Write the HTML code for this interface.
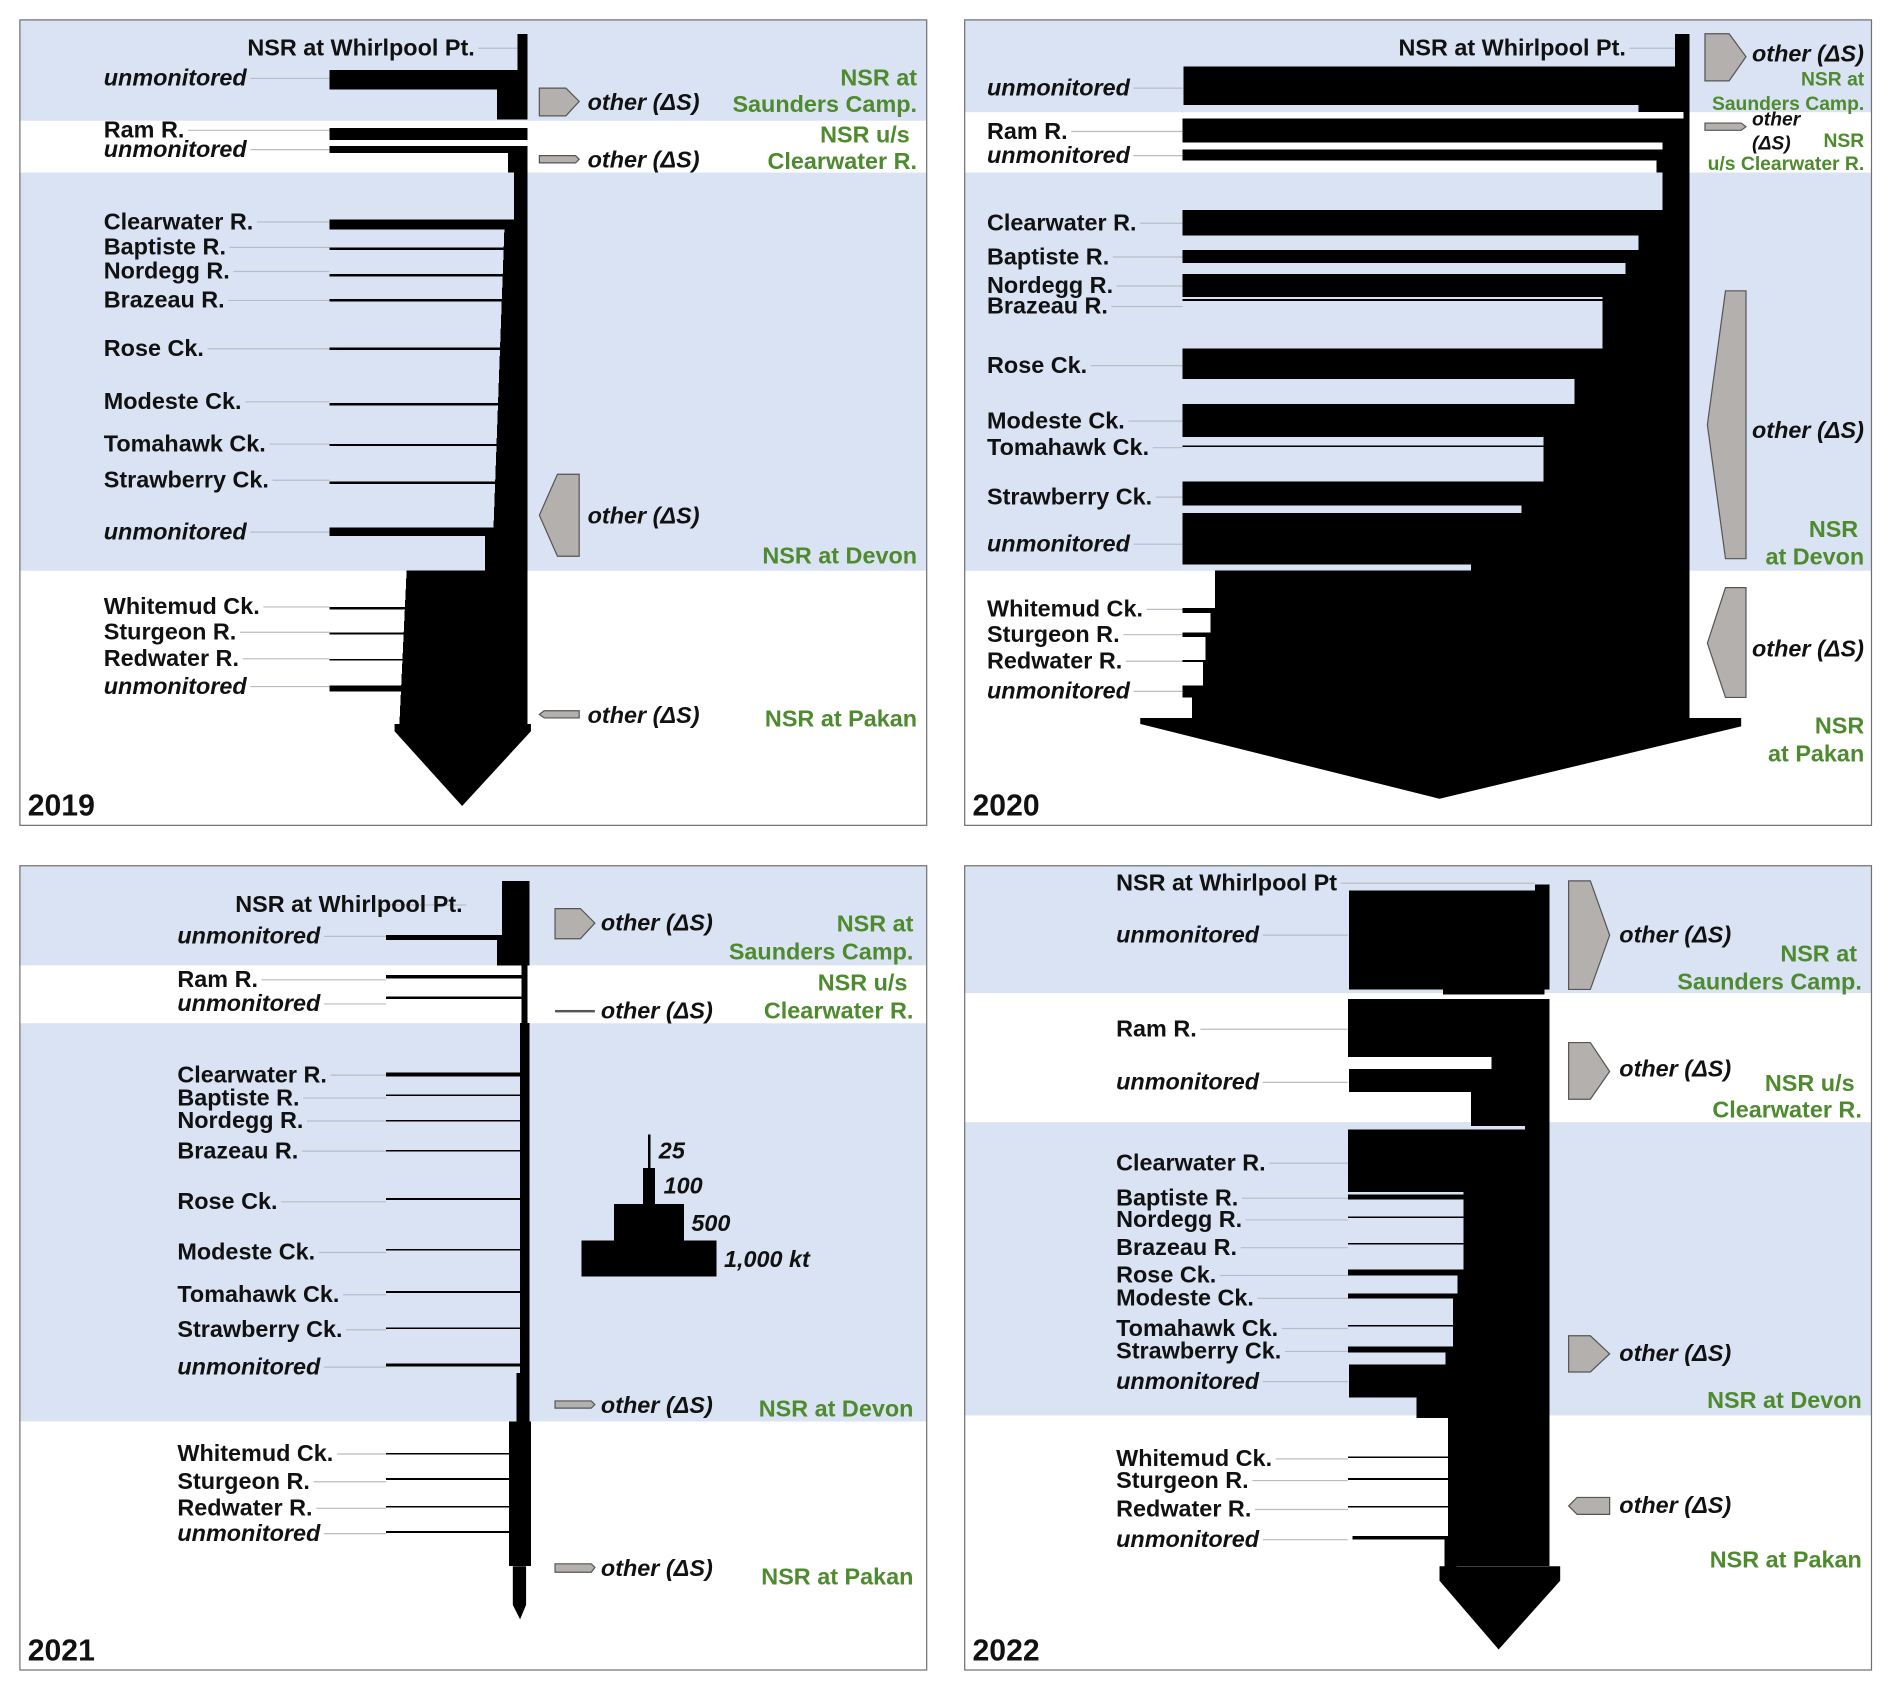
<!DOCTYPE html>
<html><head><meta charset="utf-8"><style>
html,body{margin:0;padding:0;background:#fff}
svg{display:block}
text{font-family:"Liberation Sans",Arial,sans-serif;font-weight:bold}
.l{font-size:19.4px;fill:#111}
.i{font-style:italic}
.g{font-size:19.4px;fill:#4e8a2e}
.gs{font-size:16px;fill:#4e8a2e}
.o{font-size:19.4px;font-style:italic;fill:#111}
.y{font-size:25px;fill:#111}
.sh{fill:#b3b0ae;stroke:#555;stroke-width:1}
.fl{shape-rendering:crispEdges}
</style></head><body>
<svg id="s" width="1892" height="1691" viewBox="0 0 1568 1401.4" preserveAspectRatio="none">
<g id="bg">
<rect x="16" y="16" width="752" height="668" fill="#fff"/>
<rect x="16" y="16" width="752" height="84" fill="#dae3f3"/>
<rect x="16" y="143" width="752" height="330" fill="#dae3f3"/>
<rect x="799" y="16" width="752" height="668" fill="#fff"/>
<rect x="799" y="16" width="752" height="77" fill="#dae3f3"/>
<rect x="799" y="143" width="752" height="330" fill="#dae3f3"/>
<rect x="16" y="717" width="752" height="667" fill="#fff"/>
<rect x="16" y="717" width="752" height="83" fill="#dae3f3"/>
<rect x="16" y="848" width="752" height="330" fill="#dae3f3"/>
<rect x="799" y="717" width="752" height="667" fill="#fff"/>
<rect x="799" y="717" width="752" height="106" fill="#dae3f3"/>
<rect x="799" y="930" width="752" height="243" fill="#dae3f3"/>
</g>
<g id="leaders" stroke="#b8bcc4" stroke-width="1"></g>
<g fill="#000" class="fl">
<rect x="429" y="28" width="8" height="30"/>
<rect x="273" y="58" width="164" height="16"/>
<rect x="412" y="74" width="25" height="25"/>
<rect x="273" y="106" width="164" height="10"/>
<rect x="273" y="121" width="164" height="6"/>
<rect x="421" y="127" width="16" height="16"/>
<rect x="426" y="143" width="11" height="39"/>
<rect x="273" y="182" width="164" height="8"/>
<polygon points="418,190 437,190 437,437 409,437"/>
<rect x="273" y="205" width="150" height="2"/>
<rect x="273" y="227" width="150" height="2"/>
<rect x="273" y="248" width="150" height="2"/>
<rect x="273" y="288" width="145" height="2"/>
<rect x="273" y="334" width="145" height="2"/>
<rect x="273" y="368" width="145" height="1.5"/>
<rect x="273" y="399" width="145" height="2"/>
<rect x="273" y="437" width="164" height="7"/>
<rect x="402" y="444" width="35" height="29"/>
<polygon points="337,473 437,473 437,600 331,600"/>
<rect x="273" y="503" width="70" height="2"/>
<rect x="273" y="524" width="70" height="2"/>
<rect x="273" y="546" width="70" height="1.5"/>
<rect x="273" y="568" width="70" height="5"/>
<rect x="1388" y="28" width="12" height="27"/>
<rect x="981" y="55" width="419" height="32"/>
<rect x="1358" y="87" width="42" height="6"/>
<rect x="1395" y="93" width="5" height="5"/>
<rect x="980" y="98" width="420" height="20"/>
<rect x="1378" y="118" width="22" height="6"/>
<rect x="980" y="124" width="420" height="9"/>
<rect x="1373" y="133" width="27" height="10"/>
<rect x="1378" y="143" width="22" height="31"/>
<rect x="980" y="174" width="420" height="21"/>
<rect x="1358" y="195" width="42" height="12"/>
<rect x="980" y="207" width="420" height="11"/>
<rect x="1347" y="218" width="53" height="9"/>
<rect x="980" y="227" width="420" height="19"/>
<rect x="980" y="248" width="420" height="1.5"/>
<rect x="1328" y="246" width="72" height="43"/>
<rect x="980" y="289" width="420" height="25"/>
<rect x="1305" y="314" width="95" height="21"/>
<rect x="980" y="335" width="420" height="27"/>
<rect x="980" y="369" width="420" height="1.5"/>
<rect x="1279" y="362" width="121" height="37"/>
<rect x="980" y="399" width="420" height="20"/>
<rect x="1261" y="419" width="139" height="6"/>
<rect x="980" y="425" width="420" height="43"/>
<rect x="1219" y="468" width="181" height="5"/>
<rect x="1007" y="473" width="393" height="31"/>
<rect x="980" y="504" width="420" height="4"/>
<rect x="1003" y="508" width="397" height="16"/>
<rect x="980" y="524" width="420" height="4"/>
<rect x="999" y="528" width="401" height="20"/>
<rect x="980" y="547" width="30" height="1.5"/>
<rect x="997" y="548" width="403" height="20"/>
<rect x="980" y="568" width="420" height="10"/>
<rect x="988" y="578" width="412" height="17"/>
<rect x="416" y="730" width="23" height="45"/>
<rect x="320" y="775" width="119" height="4"/>
<rect x="412" y="779" width="27" height="21"/>
<rect x="320" y="808" width="117" height="3"/>
<rect x="320" y="826" width="117" height="2"/>
<rect x="432" y="800" width="5" height="48"/>
<rect x="431" y="848" width="8" height="290"/>
<rect x="320" y="889" width="115" height="3"/>
<rect x="320" y="907" width="115" height="1.5"/>
<rect x="320" y="928" width="115" height="1.5"/>
<rect x="320" y="953" width="115" height="1.5"/>
<rect x="320" y="993" width="115" height="1.5"/>
<rect x="320" y="1035" width="115" height="1.5"/>
<rect x="320" y="1070" width="115" height="1.5"/>
<rect x="320" y="1100" width="115" height="1.5"/>
<rect x="320" y="1130" width="115" height="2.5"/>
<rect x="428" y="1138" width="11" height="40"/>
<rect x="422" y="1178" width="18" height="120"/>
<rect x="320" y="1204" width="105" height="1.5"/>
<rect x="320" y="1225" width="105" height="1.5"/>
<rect x="320" y="1248" width="105" height="1.5"/>
<rect x="320" y="1269" width="105" height="1.5"/>
<rect x="537" y="940" width="2" height="28"/>
<rect x="533" y="968" width="10" height="30"/>
<rect x="509" y="998" width="58" height="30"/>
<rect x="482" y="1028" width="112" height="30"/>
<rect x="1272" y="733" width="12" height="5"/>
<rect x="1118" y="738" width="166" height="82"/>
<rect x="1196" y="820" width="84" height="4"/>
<rect x="1117" y="828" width="167" height="48"/>
<rect x="1236" y="876" width="48" height="10"/>
<rect x="1118" y="886" width="166" height="19"/>
<rect x="1219" y="905" width="65" height="28"/>
<rect x="1264" y="933" width="20" height="3"/>
<rect x="1117" y="936" width="167" height="52"/>
<rect x="1117" y="990" width="167" height="4"/>
<rect x="1213" y="988" width="71" height="64"/>
<rect x="1117" y="1008" width="100" height="1.5"/>
<rect x="1117" y="1030" width="100" height="1.5"/>
<rect x="1117" y="1052" width="167" height="5"/>
<rect x="1208" y="1057" width="76" height="15"/>
<rect x="1117" y="1072" width="167" height="4"/>
<rect x="1204" y="1076" width="80" height="44"/>
<rect x="1117" y="1098" width="90" height="1.5"/>
<rect x="1117" y="1116" width="167" height="5"/>
<rect x="1198" y="1121" width="86" height="10"/>
<rect x="1118" y="1131" width="166" height="27"/>
<rect x="1174" y="1158" width="110" height="17"/>
<rect x="1200" y="1175" width="84" height="123"/>
<rect x="1117" y="1207" width="85" height="1.5"/>
<rect x="1117" y="1225" width="85" height="1.5"/>
<rect x="1117" y="1248" width="85" height="1.5"/>
<rect x="1121" y="1273" width="80" height="3"/>
<rect x="1197" y="1275" width="10" height="25"/>
</g>
<g fill="#000">
<polygon points="327,600 440,600 440,606 383,668 327,606"/>
<polygon points="945,595 1443,595 1443,602 1193,662 945,600"/>
<polygon points="425,1298 436,1298 436,1330 431,1342 425,1330"/>
<polygon points="1193,1298 1293,1298 1293,1310 1242,1367 1193,1310"/>
</g>
<g class="sh">
<polygon points="447,73 469,73 480,84 469,96 447,96"/>
<polygon points="447,129 477,129 480,132 477,135 447,135"/>
<polygon points="480,393 480,461 462,461 447,427 462,393"/>
<polygon points="480,589 480,595 451,595 447,592 451,589"/>
<polygon points="1413,28 1433,28 1447,47 1433,67 1413,67"/>
<polygon points="1413,102 1443,102 1447,105 1443,108 1413,108"/>
<polygon points="1447,241 1447,463 1430,463 1415,352 1430,241"/>
<polygon points="1447,487 1447,578 1430,578 1415,533 1430,487"/>
<polygon points="460,753 481,753 493,765 481,778 460,778"/>
<rect x="460" y="837" width="33" height="2" fill="#555" stroke="none"/>
<polygon points="460,1161 490,1161 493,1164 490,1167 460,1167"/>
<polygon points="460,1296 490,1296 493,1299 490,1303 460,1303"/>
<polygon points="1300,730 1318,730 1334,775 1318,820 1300,820"/>
<polygon points="1300,864 1318,864 1334,888 1318,911 1300,911"/>
<polygon points="1300,1107 1318,1107 1334,1122 1318,1137 1300,1137"/>
<polygon points="1334,1241 1334,1255 1307,1255 1300,1248 1307,1241"/>
</g>
<g id="labels">
<text class="l" x="205" y="46">NSR at Whirlpool Pt.</text>
<text class="l i" x="86" y="71">unmonitored</text>
<text class="l" x="86" y="114">Ram R.</text>
<text class="l i" x="86" y="130">unmonitored</text>
<text class="l" x="86" y="190">Clearwater R.</text>
<text class="l" x="86" y="211">Baptiste R.</text>
<text class="l" x="86" y="231">Nordegg R.</text>
<text class="l" x="86" y="255">Brazeau R.</text>
<text class="l" x="86" y="295">Rose Ck.</text>
<text class="l" x="86" y="339">Modeste Ck.</text>
<text class="l" x="86" y="374">Tomahawk Ck.</text>
<text class="l" x="86" y="404">Strawberry Ck.</text>
<text class="l i" x="86" y="447">unmonitored</text>
<text class="l" x="86" y="509">Whitemud Ck.</text>
<text class="l" x="86" y="530">Sturgeon R.</text>
<text class="l" x="86" y="552">Redwater R.</text>
<text class="l i" x="86" y="575">unmonitored</text>
<text class="l" x="1159" y="46">NSR at Whirlpool Pt.</text>
<text class="l i" x="818" y="79">unmonitored</text>
<text class="l" x="818" y="115">Ram R.</text>
<text class="l i" x="818" y="135">unmonitored</text>
<text class="l" x="818" y="191">Clearwater R.</text>
<text class="l" x="818" y="219">Baptiste R.</text>
<text class="l" x="818" y="243">Nordegg R.</text>
<text class="l" x="818" y="260">Brazeau R.</text>
<text class="l" x="818" y="309">Rose Ck.</text>
<text class="l" x="818" y="355">Modeste Ck.</text>
<text class="l" x="818" y="377">Tomahawk Ck.</text>
<text class="l" x="818" y="418">Strawberry Ck.</text>
<text class="l i" x="818" y="457">unmonitored</text>
<text class="l" x="818" y="511">Whitemud Ck.</text>
<text class="l" x="818" y="532">Sturgeon R.</text>
<text class="l" x="818" y="554">Redwater R.</text>
<text class="l i" x="818" y="579">unmonitored</text>
<text class="l" x="195" y="756">NSR at Whirlpool Pt.</text>
<text class="l i" x="147" y="782">unmonitored</text>
<text class="l" x="147" y="818">Ram R.</text>
<text class="l i" x="147" y="838">unmonitored</text>
<text class="l" x="147" y="897">Clearwater R.</text>
<text class="l" x="147" y="916">Baptiste R.</text>
<text class="l" x="147" y="935">Nordegg R.</text>
<text class="l" x="147" y="960">Brazeau R.</text>
<text class="l" x="147" y="1002">Rose Ck.</text>
<text class="l" x="147" y="1044">Modeste Ck.</text>
<text class="l" x="147" y="1079">Tomahawk Ck.</text>
<text class="l" x="147" y="1108">Strawberry Ck.</text>
<text class="l i" x="147" y="1139">unmonitored</text>
<text class="l" x="147" y="1211">Whitemud Ck.</text>
<text class="l" x="147" y="1234">Sturgeon R.</text>
<text class="l" x="147" y="1256">Redwater R.</text>
<text class="l i" x="147" y="1277">unmonitored</text>
<text class="l" x="925" y="738">NSR at Whirlpool Pt</text>
<text class="l i" x="925" y="781">unmonitored</text>
<text class="l" x="925" y="859">Ram R.</text>
<text class="l i" x="925" y="903">unmonitored</text>
<text class="l" x="925" y="970">Clearwater R.</text>
<text class="l" x="925" y="999">Baptiste R.</text>
<text class="l" x="925" y="1017">Nordegg R.</text>
<text class="l" x="925" y="1040">Brazeau R.</text>
<text class="l" x="925" y="1063">Rose Ck.</text>
<text class="l" x="925" y="1082">Modeste Ck.</text>
<text class="l" x="925" y="1107">Tomahawk Ck.</text>
<text class="l" x="925" y="1126">Strawberry Ck.</text>
<text class="l i" x="925" y="1151">unmonitored</text>
<text class="l" x="925" y="1215">Whitemud Ck.</text>
<text class="l" x="925" y="1233">Sturgeon R.</text>
<text class="l" x="925" y="1257">Redwater R.</text>
<text class="l i" x="925" y="1282">unmonitored</text>
</g>
<text class="o" x="487" y="91">other (ΔS)</text>
<text class="o" x="487" y="139">other (ΔS)</text>
<text class="o" x="487" y="434">other (ΔS)</text>
<text class="o" x="487" y="599">other (ΔS)</text>
<text class="o" x="1452" y="51">other (ΔS)</text>
<text class="o" x="1452" y="104" style="font-size:16px">other</text>
<text class="o" x="1452" y="124" style="font-size:16px">(ΔS)</text>
<text class="o" x="1452" y="363">other (ΔS)</text>
<text class="o" x="1452" y="544">other (ΔS)</text>
<text class="o" x="498" y="771">other (ΔS)</text>
<text class="o" x="498" y="844">other (ΔS)</text>
<text class="o" x="498" y="1171">other (ΔS)</text>
<text class="o" x="498" y="1306">other (ΔS)</text>
<text class="o" x="1342" y="781">other (ΔS)</text>
<text class="o" x="1342" y="892">other (ΔS)</text>
<text class="o" x="1342" y="1128">other (ΔS)</text>
<text class="o" x="1342" y="1254">other (ΔS)</text>
<text class="o" x="546" y="960">25</text>
<text class="o" x="550" y="989">100</text>
<text class="o" x="573" y="1020">500</text>
<text class="o" x="600" y="1050">1,000 kt</text>
<g text-anchor="end">
<text class="g" x="760" y="71">NSR at</text>
<text class="g" x="760" y="93">Saunders Camp.</text>
<text class="g" x="754" y="118">NSR u/s</text>
<text class="g" x="760" y="140">Clearwater R.</text>
<text class="g" x="760" y="467">NSR at Devon</text>
<text class="g" x="760" y="602">NSR at Pakan</text>
<text class="gs" x="1545" y="71">NSR at</text>
<text class="gs" x="1545" y="91">Saunders Camp.</text>
<text class="gs" x="1545" y="122">NSR</text>
<text class="gs" x="1545" y="141">u/s Clearwater R.</text>
<text class="g" x="1540" y="445">NSR</text>
<text class="g" x="1545" y="468">at Devon</text>
<text class="g" x="1545" y="608">NSR</text>
<text class="g" x="1545" y="631">at Pakan</text>
<text class="g" x="757" y="772">NSR at</text>
<text class="g" x="757" y="795">Saunders Camp.</text>
<text class="g" x="752" y="821">NSR u/s</text>
<text class="g" x="757" y="844">Clearwater R.</text>
<text class="g" x="757" y="1174">NSR at Devon</text>
<text class="g" x="757" y="1313">NSR at Pakan</text>
<text class="g" x="1539" y="797">NSR at</text>
<text class="g" x="1543" y="820">Saunders Camp.</text>
<text class="g" x="1537" y="904">NSR u/s</text>
<text class="g" x="1543" y="926">Clearwater R.</text>
<text class="g" x="1543" y="1167">NSR at Devon</text>
<text class="g" x="1543" y="1299">NSR at Pakan</text>
</g>
<text class="y" x="23" y="676">2019</text>
<text class="y" x="806" y="676">2020</text>
<text class="y" x="23" y="1376">2021</text>
<text class="y" x="806" y="1376">2022</text>
<g fill="none" stroke="#6f6f6f" stroke-width="1">
<rect x="16.5" y="16.5" width="751.5" height="667.5"/>
<rect x="799.5" y="16.5" width="751.5" height="667.5"/>
<rect x="16.5" y="717.5" width="751.5" height="666.5"/>
<rect x="799.5" y="717.5" width="751.5" height="666.5"/>
</g>
</svg>
<script>
(function(){
var ns="http://www.w3.org/2000/svg";
var g=document.getElementById('leaders');
var ts=document.querySelectorAll('#labels text');
for(var k=0;k<ts.length;k++){
 var t=ts[k];var x=+t.getAttribute('x'),y=+t.getAttribute('y');
 var w=t.getComputedTextLength();
 var end;
 if(x<200&&x>140)end=320;else if(x<200)end=273;else if(x===205)end=429;
 else if(x===195)end=416;else if(x===1159)end=1388;else if(x===818)end=980;
 else if(x===925)end=(y<745?1272:1117);else end=x+w+20;
 var l=document.createElementNS(ns,'line');
 l.setAttribute('x1',x+w+3);l.setAttribute('x2',end);
 l.setAttribute('y1',y-6);l.setAttribute('y2',y-6);g.appendChild(l);
}
})();
</script>
</body></html>
